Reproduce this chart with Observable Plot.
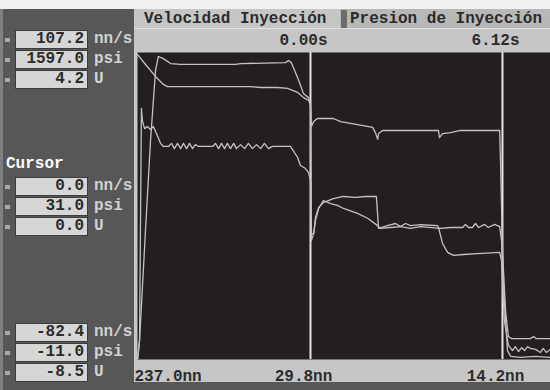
<!DOCTYPE html>
<html><head><meta charset="utf-8">
<script src="https://cdn.jsdelivr.net/npm/d3@7"></script>
<script src="https://cdn.jsdelivr.net/npm/@observablehq/plot@0.6"></script>
<style>
html,body{margin:0;padding:0;background:#fff;}
#wrap{position:relative;width:550px;height:390px;overflow:hidden;background:#575757;
  font-family:"Liberation Mono","DejaVu Sans Mono",monospace;font-weight:bold;font-size:16px;}
#wrap div{position:absolute;box-sizing:border-box;white-space:pre;}
.box{left:15px;width:73px;height:19px;background:#d6d6d6;border:1px solid #3c3c3c;color:#2b2b2b;text-align:right;padding-right:3px;line-height:17px;}
.unit{left:94px;height:19px;line-height:19px;color:#d2d2d2;}
.dot{left:5px;width:5px;height:4px;background:#a9a9a9;}
.hdr{top:9px;height:19px;line-height:20px;color:#2b2b2b;}
svg{position:absolute;left:0;top:0;}
</style></head><body><div id="wrap"></div>
<script>
// ---- data ----
const seriesNames = ["Velocidad Inyección", "Presion de Inyección", "U"];
// time in seconds (cursor 1 = 0.00 s), value in % of full scale
const velT = [-5.51,-5.45,-5.26,-5.10,-4.94,-4.85,-4.69,-4.46,-4.14,-2.39,-2.23,-0.80,-0.70,-0.61,-0.41,-0.22,-0.06,0.00,0.03,0.10,0.16,0.26,0.41,0.73,1.05,1.43,1.75,2.10,2.17,2.45,2.71,2.87,3.03,3.19,3.51,4.05,4.08,4.21,4.37,4.56,4.88,5.32,6.03,6.09,6.18,6.31,6.44,6.53,6.63,6.73,6.82,6.92,7.01,7.17,7.33,7.42,7.52,7.65];
const velV = [0.3,6.2,42.0,71.3,94.1,98.7,98.0,96.4,96.1,96.1,96.4,96.7,97.4,96.7,91.8,86.6,85.3,82.7,41.0,41.0,46.3,49.5,51.1,52.4,53.1,52.8,53.1,53.1,42.7,43.6,44.3,43.3,44.3,43.6,43.9,43.6,43.0,37.8,34.9,33.9,34.2,34.5,34.9,32.2,12.7,4.6,2.9,4.2,2.6,3.9,2.9,4.2,3.6,3.3,2.3,3.6,2.3,3.3];
const presT = [-5.51,-5.26,-4.94,-4.69,-4.56,-1.91,-1.59,-1.05,-0.73,-0.41,-0.22,-0.06,0.00,0.03,0.10,0.22,0.73,0.96,1.50,1.98,2.07,2.14,2.17,2.30,4.08,4.11,4.21,4.46,4.78,6.03,6.06,6.12,6.22,6.31,6.41,7.01,7.11,7.20,7.65];
const presV = [99.3,96.1,92.2,89.6,88.9,88.9,88.6,88.6,88.3,87.0,85.3,84.4,83.1,75.9,77.5,78.5,78.5,77.5,76.5,75.6,73.9,71.7,73.6,74.6,74.6,72.3,73.6,73.9,74.6,74.6,63.8,35.2,15.6,7.5,6.8,6.8,7.5,6.8,6.8];
const voltT = [-5.51,-5.45,-5.39,-5.36,-5.29,-5.20,-5.10,-5.01,-4.91,-4.78,-4.69,-4.53,-4.43,-4.34,-4.24,-4.14,-4.05,-3.95,-3.86,-3.76,-3.67,-3.57,-3.12,-3.03,-2.93,-2.84,-2.74,-2.65,-2.55,-2.45,-2.36,-2.23,-2.10,-1.98,-1.85,-1.72,-1.59,-1.47,-1.34,-1.21,-0.64,-0.41,-0.32,-0.16,-0.06,0.00,0.03,0.10,0.16,0.26,0.41,0.64,0.86,1.05,1.50,1.82,2.14,2.23,2.55,2.87,3.19,3.51,4.14,4.46,4.85,4.94,5.04,5.16,5.26,5.36,5.55,5.67,5.87,6.03,6.09,6.18,6.28,6.38,6.69,7.17,7.65];
const voltV = [0.3,6.2,81.8,77.9,75.2,75.9,74.9,75.9,73.6,70.4,69.4,69.4,70.4,68.7,70.4,68.7,70.4,68.7,70.4,68.7,70.0,69.4,69.4,70.4,68.7,70.4,68.7,70.4,68.7,70.4,68.7,70.0,68.7,70.4,68.7,70.0,68.7,70.4,68.7,69.4,69.4,65.8,63.2,62.2,60.9,58.3,38.8,41.0,45.3,49.2,51.8,50.8,50.2,49.2,47.6,46.0,43.6,42.7,43.0,43.3,42.7,43.3,42.7,43.0,43.0,44.0,43.0,43.0,44.3,43.0,44.0,43.0,44.0,43.3,38.8,19.2,2.9,1.0,0.7,1.0,0.7];
const timeDomain = [-5.515, 7.651];
const cursorTimes = [0, 6.12];
const timeLabels = ["0.00s", "6.12s"];
const positionLabels = ["237.0nn", "29.8nn", "14.2nn"];
const units = ["nn/s", "psi", "U"];
const maxValues = ["107.2", "1597.0", "4.2"];
const cursorValues = ["0.0", "31.0", "0.0"];
const minValues = ["-82.4", "-11.0", "-8.5"];

// ---- chrome ----
const wrap = document.getElementById("wrap");
function add(cls, style, text) {
  const d = document.createElement("div");
  if (cls) d.className = cls;
  Object.assign(d.style, style);
  if (text != null) d.textContent = text;
  wrap.appendChild(d);
  return d;
}
add(null, {left:"0px", top:"0px", width:"550px", height:"9px", background:"#f1f1f1"});
add(null, {left:"0px", top:"9px", width:"3px", height:"381px", background:"#808080"});
add(null, {left:"134px", top:"9px", width:"416px", height:"373px", background:"#c6c6c6"});
add(null, {left:"340px", top:"9px", width:"210px", height:"19px", background:"#b8b8b8"});
add(null, {left:"341px", top:"10px", width:"6px", height:"18px", background:"#6c6c6c"});
add(null, {left:"134px", top:"28px", width:"416px", height:"1px", background:"#e2e2e2"});
add("hdr", {left:"144px"}, seriesNames[0]);
add("hdr", {left:"350px"}, seriesNames[1]);

function group(tops, values) {
  tops.forEach((t, i) => {
    add("dot", {top: (t + 8) + "px"});
    add("box", {top: t + "px"}, values[i]);
    add("unit", {top: t + "px"}, units[i]);
  });
}
group([30, 50, 70], maxValues);
add(null, {left:"6px", top:"155px", color:"#ffffff", lineHeight:"18px"}, "Cursor");
group([177, 197, 217], cursorValues);
group([323, 343, 363], minValues);

// ---- chart ----
const rows = [];
velT.forEach((t, i) => rows.push({name: seriesNames[0], t, v: velV[i]}));
presT.forEach((t, i) => rows.push({name: seriesNames[1], t, v: presV[i]}));
voltT.forEach((t, i) => rows.push({name: seriesNames[2], t, v: voltV[i]}));

const font = {fontFamily: '"Liberation Mono","DejaVu Sans Mono",monospace', fontSize: 16, fontWeight: "bold", fill: "#2b2b2b", lineAnchor: "middle"};
const chart = Plot.plot({
  width: 550, height: 390,
  marginLeft: 137, marginRight: 0, marginTop: 52, marginBottom: 31,
  x: {domain: timeDomain, axis: null},
  y: {domain: [0, 100], axis: null},
  style: {background: "transparent", overflow: "visible"},
  marks: [
    Plot.frame({fill: "#231f20", stroke: null}),
    Plot.ruleX(cursorTimes, {stroke: "#e4e4e4", strokeWidth: 2}),
    Plot.line(rows, {x: "t", y: "v", z: "name", stroke: "#c2c2c2", strokeWidth: 1.3, clip: true}),
    Plot.text(cursorTimes, {x: d => d, frameAnchor: "top", dy: -13, dx: -7, text: (d, i) => timeLabels[i], ...font}),
    Plot.text([positionLabels[0]], {frameAnchor: "bottom-left", textAnchor: "start", dx: -3, dy: 16, text: d => d, ...font}),
    Plot.text(cursorTimes, {x: d => d, frameAnchor: "bottom", dy: 16, dx: -7, text: (d, i) => positionLabels[i + 1], ...font})
  ]
});
wrap.appendChild(chart);
</script>
</body></html>
